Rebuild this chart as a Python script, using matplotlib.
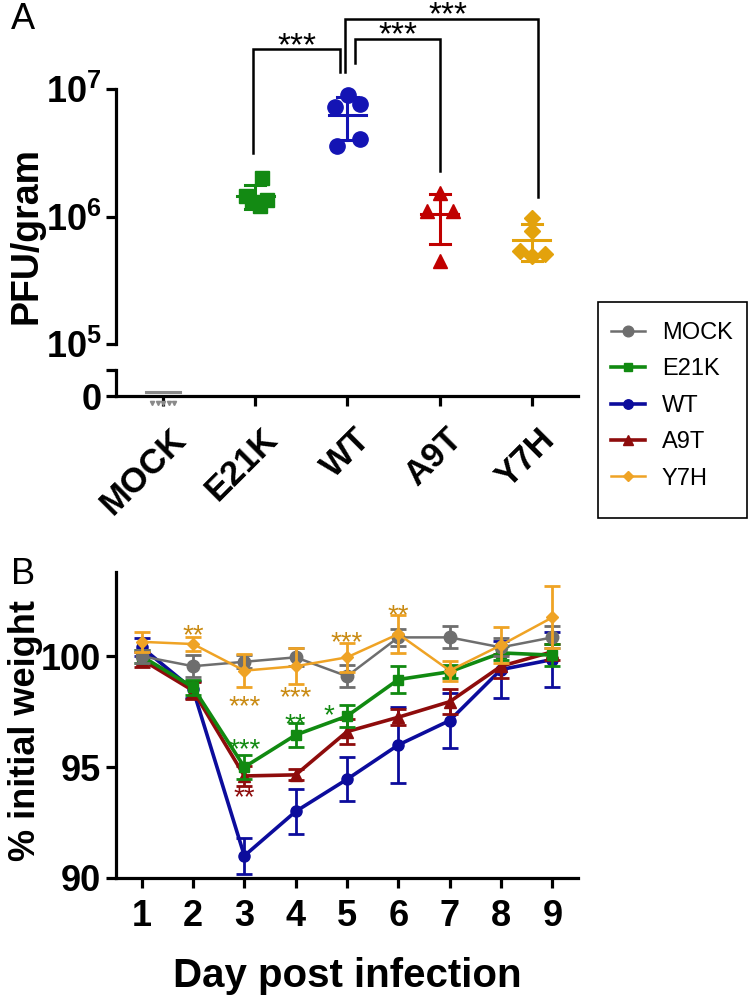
import numpy as np
import matplotlib
matplotlib.use("Agg")
import matplotlib.pyplot as plt
import matplotlib.transforms as mtransforms
from matplotlib.lines import Line2D
from matplotlib.patches import Rectangle

plt.rcParams['font.family'] = ['Liberation Sans', 'DejaVu Sans']
plt.rcParams['mathtext.fontset'] = 'custom'
plt.rcParams['mathtext.rm'] = 'Liberation Sans'
plt.rcParams['mathtext.bf'] = 'Liberation Sans:bold'

# ---- panel A data (PFU/gram) ----
groups = ["MOCK", "E21K", "WT", "A9T", "Y7H"]
pfu_mock = [0, 0, 0, 0, 0]
pfu_e21k = [2.0e6, 1.45e6, 1.35e6, 1.3e6, 1.2e6]
pfu_wt = [8.97e6, 7.2e6, 7.6e6, 3.6e6, 4.1e6]
pfu_a9t = [1.52e6, 1.11e6, 1.11e6, 0.45e6]
pfu_y7h = [0.98e6, 0.775e6, 0.54e6, 0.49e6, 0.51e6]

# ---- panel B data (% initial weight) ----
days = [1, 2, 3, 4, 5, 6, 7, 8, 9]
w_mock = [100.0, 99.55, 99.75, 99.95, 99.1, 100.85, 100.85, 100.4, 100.85]
e_mock = [0.3, 0.5, 0.3, 0.4, 0.5, 0.4, 0.5, 0.4, 0.5]
w_e21k = [100.0, 98.6, 95.0, 96.45, 97.3, 98.95, 99.3, 100.15, 100.05]
e_e21k = [0.3, 0.35, 0.55, 0.55, 0.5, 0.6, 0.3, 0.3, 0.5]
w_wt = [100.4, 98.5, 91.0, 93.0, 94.45, 96.0, 97.1, 99.4, 99.85]
e_wt = [0.4, 0.4, 0.8, 1.0, 1.0, 1.7, 1.25, 1.3, 1.25]
w_a9t = [99.85, 98.45, 94.6, 94.65, 96.6, 97.25, 97.95, 99.55, 100.2]
e_a9t = [0.35, 0.4, 0.45, 0.25, 0.55, 0.35, 0.55, 0.55, 0.35]
w_y7h = [100.65, 100.55, 99.35, 99.55, 99.95, 101.0, 99.35, 100.5, 101.75]
e_y7h = [0.45, 0.3, 0.75, 0.8, 0.65, 0.85, 0.45, 0.8, 1.4]

# significance marks on panel B: (day, weight, text, colour key)
b_marks = [(2, 100.9, "**", "y7h"), (3, 97.7, "***", "y7h"), (4, 98.1, "***", "y7h"),
           (5, 100.6, "***", "y7h"), (6, 101.8, "**", "y7h"),
           (3, 95.75, "***", "e21k"), (4, 96.9, "**", "e21k"), (4.65, 97.3, "*", "e21k"),
           (3, 93.6, "**", "a9t")]

colA = {"mock": "#8a8a8a", "e21k": "#138a13", "wt": "#1414b4", "a9t": "#c00000", "y7h": "#e3a20c"}
colB = {"mock": "#6e6e6e", "e21k": "#118a11", "wt": "#0c0c9c", "a9t": "#8e0c0c", "y7h": "#efa325"}
starB = {"e21k": "#118a11", "a9t": "#8e0c0c", "y7h": "#c98a12"}

fig = plt.figure(figsize=(7.5, 9.97), dpi=100)

# ================= panel A =================
axA = fig.add_axes([0.1547, 0.655, 0.616, 0.345])
axA0 = fig.add_axes([0.1547, 0.6028, 0.616, 0.0261])
for ax in (axA, axA0):
    for s in ("top", "right"):
        ax.spines[s].set_visible(False)
    ax.patch.set_alpha(0)
    ax.spines["left"].set_linewidth(2.3)
    ax.spines["bottom"].set_linewidth(2.3)
    ax.tick_params(width=2.3, length=7, labelsize=26)
    ax.set_xlim(-0.51, 4.5)

axA.set_yscale("log")
axA.set_ylim(1e5, 10 ** 7.70)
axA.spines["left"].set_bounds(1e5, 1e7)
axA.spines["bottom"].set_visible(False)
axA.set_xticks([])
axA.set_yticks([1e5, 1e6, 1e7])
axA.minorticks_off()
axA.set_yticklabels([r"$\mathbf{10^{5}}$", r"$\mathbf{10^{6}}$", r"$\mathbf{10^{7}}$"])

axA0.set_ylim(0, 1)
axA0.set_yticks([0, 1])
axA0.set_yticklabels(["0", ""], fontweight="bold")
axA0.set_xticks(range(len(groups)))
axA0.set_xticklabels(groups, rotation=45, ha="right", rotation_mode="anchor",
                     fontweight="bold", fontsize=25)
axA0.tick_params(axis="x", pad=12)
shift = mtransforms.ScaledTranslation(6 / 100, 0, fig.dpi_scale_trans)
for lab in axA0.get_xticklabels():
    lab.set_transform(lab.get_transform() + shift)

offsets = {
    "e21k": [0.07, -0.1, 0.13, -0.04, 0.05],
    "wt": [0.01, -0.13, 0.14, -0.11, 0.14],
    "a9t": [0.0, -0.14, 0.14, 0.0],
    "y7h": [0.0, 0.0, -0.13, 0.0, 0.14],
}
series_A = [("e21k", 1, pfu_e21k, "s", 10), ("wt", 2, pfu_wt, "o", 11),
            ("a9t", 3, pfu_a9t, "^", 10), ("y7h", 4, pfu_y7h, "D", 8)]
for key, xi, vals, mk, ms in series_A:
    vals = np.array(vals)
    m, sd = vals.mean(), vals.std(ddof=1)
    c = colA[key]
    axA.plot([xi - 0.2, xi + 0.2], [m, m], color=c, lw=2.2, zorder=3)
    axA.plot([xi, xi], [m - sd, m + sd], color=c, lw=2.2, zorder=3)
    for yy in (m - sd, m + sd):
        axA.plot([xi - 0.11, xi + 0.11], [yy, yy], color=c, lw=2.2, zorder=3)
    axA.plot(xi + np.array(offsets[key]), vals, mk, color=c, ms=ms, ls="none", zorder=4)

# mock values sit on the zero line
axA0.plot([-0.18, 0.18], [0.15, 0.15], color=colA["mock"], lw=2.2, clip_on=False, zorder=3)
axA0.plot(np.array([-0.12, -0.06, 0.0, 0.06, 0.12]), np.array(pfu_mock) - 0.25, "v",
          color=colA["mock"], ms=3, ls="none", clip_on=False, zorder=3)

# significance brackets: (x left, x right, left foot, right foot, top, star x)
brackets = [(0.975, 1.92, 10 ** 6.496, 10 ** 7.134, 10 ** 7.315, 1.45),
            (2.08, 3.0, 10 ** 7.205, 10 ** 6.354, 10 ** 7.394, 2.55),
            (1.97, 4.07, 10 ** 7.134, 10 ** 6.15, 10 ** 7.551, 3.09)]
for x1, x2, yl, yr, yt, xs in brackets:
    axA.plot([x1, x1, x2, x2], [yl, yt, yt, yr], color="black", lw=1.8,
             clip_on=False, solid_joinstyle="miter")
    axA.text(xs, yt * 10 ** (-0.045), "***", ha="center", va="baseline", fontsize=24)

fig.text(0.036, 0.764, "PFU/gram", rotation=90, ha="center", va="center",
         fontsize=27, fontweight="bold")
fig.text(0.015, 0.98, "A", fontsize=26, ha="left", va="center")

# ================= panel B =================
axB = fig.add_axes([0.1547, 0.1194, 0.616, 0.3069])
for s in ("top", "right"):
    axB.spines[s].set_visible(False)
axB.spines["left"].set_linewidth(2.3)
axB.spines["bottom"].set_linewidth(2.3)
axB.tick_params(width=2.3, length=7, labelsize=26)
axB.tick_params(axis="x", pad=8)
axB.set_xlim(0.5, 9.5)
axB.set_ylim(90, 103.8)
axB.set_xticks(days)
axB.set_yticks([90, 95, 100])
for lab in axB.get_xticklabels() + axB.get_yticklabels():
    lab.set_fontweight("bold")
axB.set_xlabel("Day post infection", fontsize=29, fontweight="bold", labelpad=17)

series_B = [("wt", "WT", w_wt, e_wt, "o", 2.6, 8),
            ("a9t", "A9T", w_a9t, e_a9t, "^", 2.6, 8),
            ("e21k", "E21K", w_e21k, e_e21k, "s", 2.6, 7),
            ("mock", "MOCK", w_mock, e_mock, "o", 1.8, 9),
            ("y7h", "Y7H", w_y7h, e_y7h, "D", 1.8, 6)]
handles = {}
for i, (key, name, w, e, mk, lw, ms) in enumerate(series_B):
    c = colB[key]
    axB.errorbar(days, w, yerr=e, color=c, marker=mk, ms=ms, lw=lw, elinewidth=2,
                 capsize=6, capthick=2, zorder=2 + i)
    handles[name] = Line2D([], [], color=c, marker=mk, ms=ms * 0.85, lw=lw)

for d, y, t, k in b_marks:
    axB.text(d, y, t, color=starB[k], fontsize=20, ha="center", va="center")

fig.text(0.034, 0.267, "% initial weight", rotation=90, ha="center", va="center",
         fontsize=26, fontweight="bold")
fig.text(0.015, 0.424, "B", fontsize=26, ha="left", va="center")

# legend box drawn separately so it can keep the reference's extra bottom space
fig.patches.append(Rectangle((598 / 750, 1 - 518 / 997), 149 / 750, 216 / 997,
                             transform=fig.transFigure, fill=False, ec="black", lw=1.2))
order = ["MOCK", "E21K", "WT", "A9T", "Y7H"]
fig.legend([handles[n] for n in order], order, loc="upper left",
           bbox_to_anchor=(598 / 750, 1 - 309 / 997), borderaxespad=0, frameon=False,
           fontsize=17, handlelength=1.45, borderpad=0.55, labelspacing=0.61,
           handletextpad=0.7)

fig.savefig("out.png", dpi=100)
